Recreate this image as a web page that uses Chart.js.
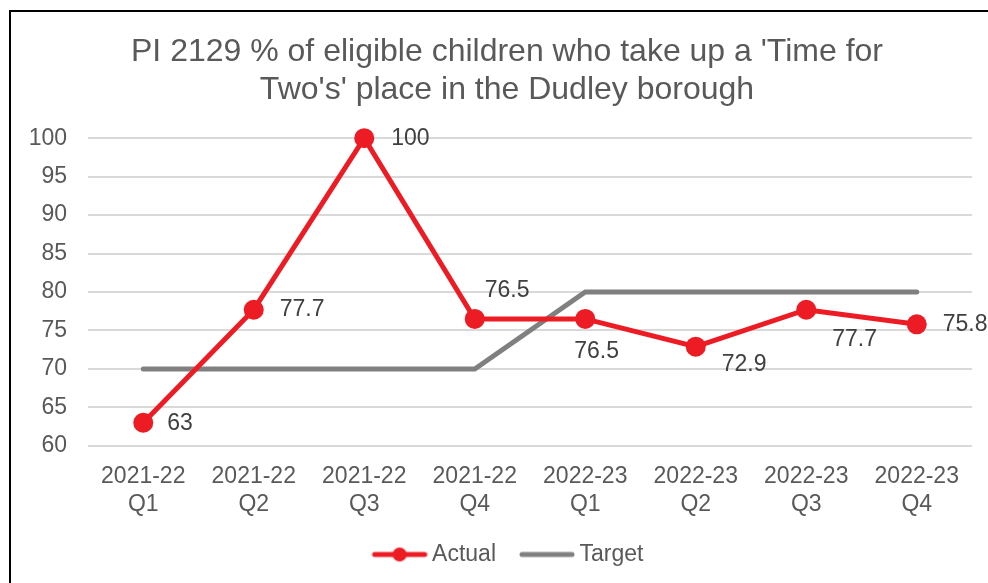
<!DOCTYPE html>
<html>
<head>
<meta charset="utf-8">
<script src="https://cdn.jsdelivr.net/npm/chart.js@4.4.0/dist/chart.umd.min.js"></script>
<style>
  html, body { margin: 0; padding: 0; background: #fff; }
  #wrap { position: relative; width: 988px; height: 583px; }
</style>
</head>
<body>
<div id="wrap"><canvas id="piChart" width="988" height="583"></canvas></div>
<script>
const categories = [
  ["2021-22", "Q1"], ["2021-22", "Q2"], ["2021-22", "Q3"], ["2021-22", "Q4"],
  ["2022-23", "Q1"], ["2022-23", "Q2"], ["2022-23", "Q3"], ["2022-23", "Q4"]
];
const actual = [63, 77.7, 100, 76.5, 76.5, 72.9, 77.7, 75.8];
const target = [70, 70, 70, 70, 80, 80, 80, 80];
const yTicks = [60, 65, 70, 75, 80, 85, 90, 95, 100];

const RED = "#ED1C24";
const GREY = "#808080";
const FONT = "'Liberation Sans', Arial, sans-serif";

// label offsets from the point (left edge of text, vertical centre)
const labelOffsets = [[24, 1], [26, 0], [27, 0], [10, -28], [-11, 33], [26, 18], [26, 30], [26, 0]];

// legend swatch: line with a dot for Actual, plain line for Target
function swatch(color, dot) {
  const shift = 30;
  const c = document.createElement("canvas");
  c.width = 56 + shift;
  c.height = 20;
  const g = c.getContext("2d");
  g.strokeStyle = color;
  g.lineWidth = 5;
  g.lineCap = "round";
  g.beginPath();
  g.moveTo(shift + 3, 10);
  g.lineTo(shift + 53, 10);
  g.stroke();
  if (dot) {
    g.fillStyle = color;
    g.beginPath();
    g.arc(shift + 28, 10, 7, 0, Math.PI * 2);
    g.fill();
  }
  return c;
}

const borderPlugin = {
  id: "frame",
  afterLayout(chart) {
    // title and legend sit a bit right of the plot centre in the original
    chart.titleBlock.left += 32;
    chart.legend.left += 10;
  },
  afterDraw(chart) {
    const ctx = chart.ctx;
    ctx.save();
    ctx.fillStyle = "#000";
    ctx.fillRect(9, 10, 988, 2);
    ctx.fillRect(9, 10, 2, 583);
    ctx.restore();
  }
};

const valueLabels = {
  id: "valueLabels",
  afterDatasetsDraw(chart) {
    const ctx = chart.ctx;
    const meta = chart.getDatasetMeta(0);
    ctx.save();
    ctx.font = "23px " + FONT;
    ctx.fillStyle = "#404040";
    ctx.textAlign = "left";
    ctx.textBaseline = "middle";
    meta.data.forEach((pt, i) => {
      const off = labelOffsets[i];
      ctx.fillText(String(actual[i]), pt.x + off[0], pt.y + off[1]);
    });
    ctx.restore();
  }
};

const ctx = document.getElementById("piChart").getContext("2d");
const piChart = new Chart(ctx, {
  type: "line",
  data: {
    labels: categories,
    datasets: [
      {
        label: "Actual",
        data: actual,
        borderColor: RED,
        backgroundColor: RED,
        borderWidth: 5,
        pointRadius: 10,
        pointHoverRadius: 10,
        pointBackgroundColor: RED,
        pointBorderWidth: 0,
        tension: 0,
        clip: false,
        order: 0
      },
      {
        label: "Target",
        data: target,
        borderColor: GREY,
        backgroundColor: GREY,
        borderWidth: 5,
        borderCapStyle: "round",
        pointRadius: 0,
        tension: 0,
        clip: false,
        order: 1
      }
    ]
  },
  options: {
    responsive: false,
    animation: false,
    layout: { padding: { left: 10, right: 16, top: 0, bottom: 7 } },
    plugins: {
      title: {
        display: true,
        text: ["PI 2129 % of eligible children who take up a 'Time for", "Two's' place in the Dudley borough"],
        color: "#595959",
        font: { family: FONT, size: 32, weight: "normal", lineHeight: 1.19 },
        padding: { top: 33, bottom: 29 }
      },
      legend: {
        position: "bottom",
        labels: {
          color: "#595959",
          font: { family: FONT, size: 23 },
          usePointStyle: true,
          pointStyleWidth: 72,
          padding: 0,
          generateLabels(chart) {
            return chart.data.datasets.map((ds, i) => ({
              text: ds.label,
              fontColor: "#595959",
              pointStyle: swatch(ds.borderColor, i === 0),
              datasetIndex: i,
              hidden: false,
              lineWidth: 0,
              strokeStyle: "rgba(0,0,0,0)",
              fillStyle: "rgba(0,0,0,0)"
            }));
          }
        }
      },
      tooltip: { enabled: false }
    },
    scales: {
      x: {
        offset: true,
        afterFit(scale) { scale.height += 7; },
        grid: { display: false, drawTicks: false },
        border: { display: false },
        ticks: {
          color: "#595959",
          font: { family: FONT, size: 23, lineHeight: 1.22 },
          padding: 17,
          maxRotation: 0,
          autoSkip: false
        }
      },
      y: {
        min: 60,
        max: 100,
        afterFit(scale) { scale.width = 78; },
        afterBuildTicks(scale) { scale.ticks = yTicks.map(v => ({ value: v })); },
        grid: { color: "#D9D9D9", lineWidth: 2, drawTicks: false },
        border: { display: false },
        ticks: {
          color: "#595959",
          font: { family: FONT, size: 23 },
          padding: 21
        }
      }
    }
  },
  plugins: [valueLabels, borderPlugin]
});
</script>
</body>
</html>
